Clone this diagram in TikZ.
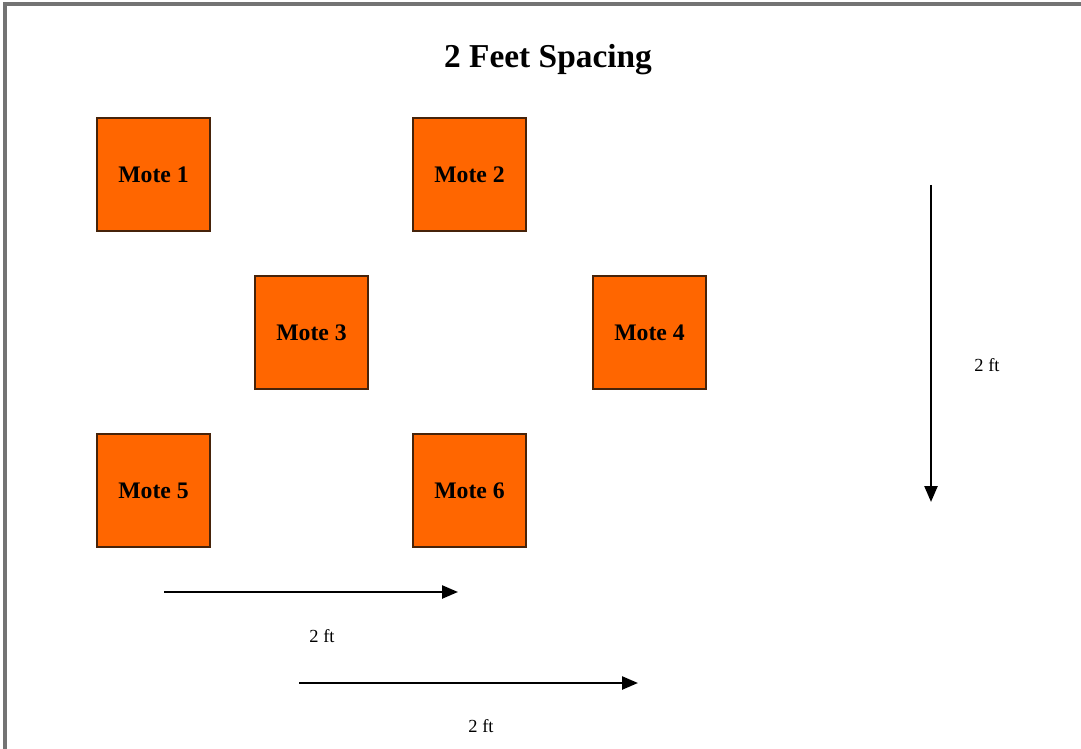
\documentclass[tikz,border=0pt]{standalone}
\usepackage{fontspec}
\setmainfont{Liberation Serif}
\usetikzlibrary{arrows.meta}
\definecolor{moteorange}{RGB}{255,102,0}
\definecolor{moteedge}{RGB}{70,35,10}
\tikzset{
  mote/.style={draw=moteedge, line width=0.8pt, fill=moteorange,
    minimum size=2.26cm, inner sep=0pt,
    font=\bfseries\fontsize{13.5}{16}\selectfont},
  spacing/.style={line width=1.4pt, -{Triangle[length=0.32cm,width=0.26cm]}},
  ftlabel/.style={font=\fontsize{10.5}{12}\selectfont},
}

\begin{document}
\begin{tikzpicture}[x=0.02cm,y=-0.02cm]
  \useasboundingbox (0,0) rectangle (1081,749);
  \draw[gray!90!black, line width=1.8pt] (5,749) -- (5,4) -- (1081,4);
  \node[font=\bfseries\fontsize{19}{23}\selectfont] (title) at (548,60) {2 Feet Spacing};
  \foreach \n/\x/\y in {1/153.5/174.5, 2/469.5/174.5, 3/311.5/332.5,
                        4/649.5/332.5, 5/153.5/490.5, 6/469.5/490.5}{%
      \node[mote] (mote\n) at (\x,\y) {Mote \n};
  }
  \path[coordinate] (931,185) coordinate(vtop)
              ++(0,317) coordinate(vbottom);
  \path[coordinate] (164,592) coordinate(hstart)
              ++(294,0) coordinate(hend);
  \path[coordinate] (299,683) coordinate(lstart)
              ++(339,0) coordinate(lend);
  \draw[spacing] (vtop) -- (vbottom);
  \draw[spacing] (hstart) -- (hend);
  \draw[spacing] (lstart) -- (lend);
  \node[ftlabel] (vlabel) at (987,365) {2 ft};
  \node[ftlabel] (hlabel) at (322,636) {2 ft};
  \node[ftlabel] (llabel) at (481,726) {2 ft};
\end{tikzpicture}
\end{document}
